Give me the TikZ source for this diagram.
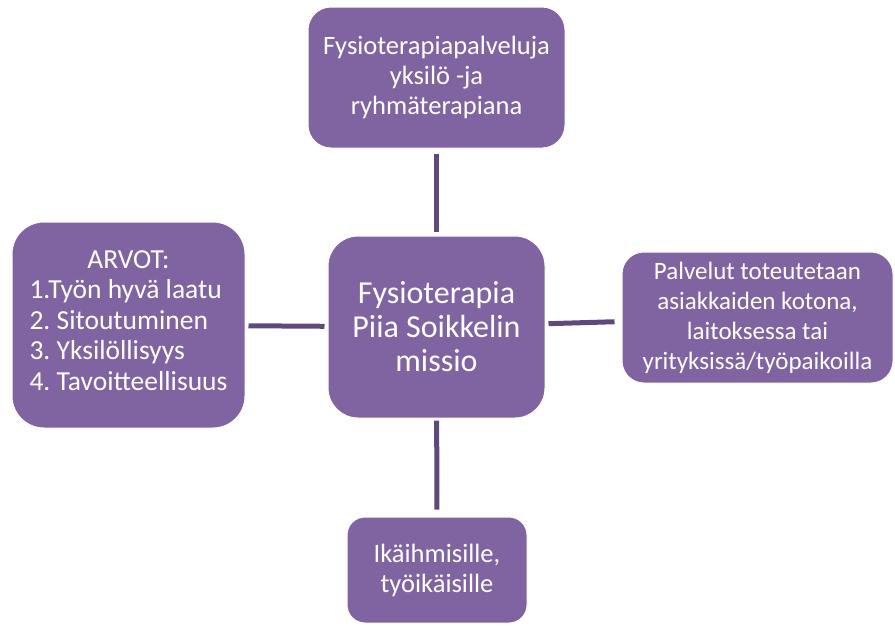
\documentclass[tikz,border=0pt]{standalone}
\usepackage{fontspec}
\setmainfont{Carlito}
\frenchspacing
\definecolor{boxpurple}{RGB}{128,100,162}
\definecolor{linepurple}{RGB}{95,73,122}

\begin{document}
\begin{tikzpicture}[x=1pt, y=-1pt]
  \tikzset{missionbox/.style={fill=boxpurple, draw=white, line width=1pt, text=white, align=center, inner sep=0pt, font=\fontsize{26.5}{30}\selectfont},
           link/.style={draw=linepurple, line width=5pt}}
  \useasboundingbox (0,0) rectangle (895,635);
  \node[missionbox, minimum width=217pt, minimum height=182pt, rounded corners=30pt, font=\fontsize{32}{34}\selectfont] (mission) at (436.5,327) {Fysioterapia\\Piia Soikkelin\\missio};
  \node[missionbox, minimum width=257pt, minimum height=141pt, rounded corners=23pt] (services) at (436.5,77.5) {Fysioterapiapalveluja\\yksilö -ja\\ryhmäterapiana};
  \node[missionbox, minimum width=233pt, minimum height=206pt, rounded corners=32pt, font=\fontsize{27.5}{30.5}\selectfont] (values) at (128.5,325)
    {ARVOT:\\\begin{tabular}[t]{@{}l@{}}1.Työn hyvä laatu\\2. Sitoutuminen\\3. Yksilöllisyys\\4. Tavoitteellisuus\end{tabular}};
  \node[missionbox, minimum width=271pt, minimum height=131pt, rounded corners=22pt, font=\fontsize{25}{30}\selectfont] (places) at (757.5,317.5) {Palvelut toteutetaan\\asiakkaiden kotona,\\laitoksessa tai\\yrityksissä/työpaikoilla};
  \node[missionbox, minimum width=180pt, minimum height=106pt, rounded corners=18pt] (clients) at (437,570) {Ikäihmisille,\\työikäisille};
  \draw[link, shorten <=5pt, shorten >=4pt] (services) -- (mission);
  \draw[link, shorten <=3pt, shorten >=3pt] (values) -- (mission);
  \draw[link, shorten <=3pt, shorten >=7pt] (mission) -- (places);
  \draw[link, shorten <=2pt, shorten >=7pt] (mission) -- (clients);
\end{tikzpicture}
\end{document}
